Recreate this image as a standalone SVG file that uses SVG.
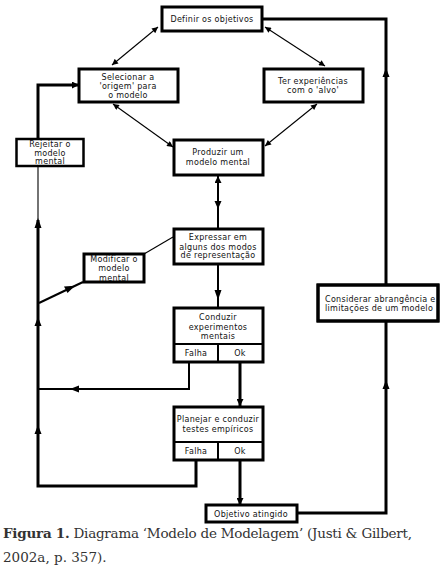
<svg xmlns="http://www.w3.org/2000/svg" width="445" height="585" viewBox="0 0 445 585">
<style>
.box{fill:#fff;stroke:#000;stroke-width:3}
.t{font-family:"DejaVu Sans",sans-serif;font-size:8px;letter-spacing:0.3px;fill:#111;text-anchor:middle}
.tl{text-anchor:start}
.thin{fill:none;stroke:#000;stroke-width:1.1}
.thick{fill:none;stroke:#000;stroke-width:3}
.med{fill:none;stroke:#000;stroke-width:2}
.ah{fill:#000}
.cap{font-family:"DejaVu Serif",serif;font-size:13.5px;fill:#333}
</style>
<defs>
<marker id="a" viewBox="0 0 10 10" refX="10" refY="5" markerWidth="8" markerHeight="6" markerUnits="userSpaceOnUse" orient="auto-start-reverse">
<path d="M0,0L10,5L0,10z" fill="#000"/>
</marker>
<marker id="b" viewBox="0 0 10 10" refX="10" refY="5" markerWidth="9" markerHeight="7" markerUnits="userSpaceOnUse" orient="auto">
<path d="M0,0L10,5L0,10z" fill="#000"/>
</marker>
<clipPath id="cc"><rect x="318" y="285" width="120" height="36"/></clipPath>
</defs>
<rect width="445" height="585" fill="#fff"/>
<g id="connectors">
<line class="thin" x1="158" y1="27" x2="112" y2="65" marker-start="url(#a)" marker-end="url(#a)"/>
<line class="thin" x1="265" y1="27" x2="325" y2="66" marker-start="url(#a)" marker-end="url(#a)"/>
<line class="thin" x1="113" y1="104" x2="173" y2="147" marker-start="url(#a)" marker-end="url(#a)"/>
<line class="thin" x1="317" y1="104" x2="265" y2="146" marker-start="url(#a)" marker-end="url(#a)"/>
<line class="med" x1="218" y1="229" x2="218" y2="176" marker-end="url(#b)"/>
<polygon class="ah" points="214.5,201 221.5,201 218,209"/>
<line class="med" x1="218" y1="264" x2="218" y2="308"/>
<polygon class="ah" points="214.5,290 221.5,290 218,300"/>
<line class="thin" x1="173" y1="237" x2="144" y2="254"/>
<line class="med" x1="39" y1="303" x2="83" y2="282"/>
<polygon class="ah" points="64,286.5 75,285.8 67.5,293"/>
<path class="med" d="M189,362V389H39"/>
<polygon class="ah" points="70,389 79,385.5 79,392.5"/>
<line class="thick" x1="240" y1="362" x2="240" y2="406" marker-end="url(#b)"/>
<line class="thick" x1="240" y1="460" x2="240" y2="505" marker-end="url(#b)"/>
<path class="thick" d="M196,460V486H38V220"/>
<polygon class="ah" points="38,317 34.5,326 41.5,326"/>
<polygon class="ah" points="38,425 34.5,434 41.5,434"/>
<polygon class="ah" points="38,218 34.5,228 41.5,228"/>
<line class="thin" x1="38" y1="222" x2="38" y2="166"/>
<path class="thick" d="M38,139V85H79" marker-end="url(#b)"/>
<path class="thick" d="M297,513H386V321"/>
<polygon class="ah" points="386,380 382.5,389 389.5,389"/>
<path class="thick" d="M386,285V19H263"/>
<polygon class="ah" points="386,68 382.5,77 389.5,77"/>
</g>
<g id="n-definir">
<rect class="box" x="162" y="7" width="100" height="24"/>
<text class="t" x="212" y="21.5">Definir os objetivos</text>
</g>
<g id="n-selecionar">
<rect class="box" x="79" y="69" width="99" height="33"/>
<text class="t" x="128" y="80">Selecionar  a</text>
<text class="t" x="128" y="89">'origem' para</text>
<text class="t" x="128" y="97.5">o modelo</text>
</g>
<g id="n-ter">
<rect class="box" x="264" y="69" width="99" height="33"/>
<text class="t" x="313" y="84">Ter experiências</text>
<text class="t" x="313" y="93">com o 'alvo'</text>
</g>
<g id="n-rejeitar">
<rect class="box" x="16.5" y="139" width="67" height="27" style="stroke-width:2.5"/>
<text class="t" x="50" y="147">Rejeitar o</text>
<text class="t" x="50" y="155.5">modelo</text>
<text class="t" x="50" y="164">mental</text>
</g>
<g id="n-produzir">
<rect class="box" x="174" y="140" width="89" height="35"/>
<text class="t" x="218" y="155">Produzir um</text>
<text class="t" x="218" y="165">modelo mental</text>
</g>
<g id="n-expressar">
<rect class="box" x="174" y="229" width="89" height="35"/>
<text class="t" x="218" y="240">Expressar em</text>
<text class="t" x="218" y="249.5">alguns dos modos</text>
<text class="t" x="218" y="258">de representação</text>
</g>
<g id="n-modificar">
<rect class="box" x="84" y="254" width="60" height="28"/>
<text class="t" x="114" y="261.5">Modificar o</text>
<text class="t" x="114" y="271">modelo</text>
<text class="t" x="114" y="280.5">mental</text>
</g>
<g id="n-conduzir">
<rect class="box" x="174" y="308" width="89" height="54"/>
<line x1="174" y1="344" x2="263" y2="344" stroke="#000" stroke-width="2"/>
<line x1="218" y1="344" x2="218" y2="362" stroke="#000" stroke-width="2"/>
<text class="t" x="218" y="320">Conduzir</text>
<text class="t" x="218" y="330">experimentos</text>
<text class="t" x="218" y="339">mentais</text>
<text class="t" x="196" y="356">Falha</text>
<text class="t" x="240" y="356">Ok</text>
</g>
<g id="n-planejar">
<rect class="box" x="174" y="407" width="89" height="53"/>
<line x1="174" y1="442" x2="263" y2="442" stroke="#000" stroke-width="2"/>
<line x1="218" y1="442" x2="218" y2="460" stroke="#000" stroke-width="2"/>
<text class="t" x="218" y="422">Planejar e conduzir</text>
<text class="t" x="218" y="432">testes empíricos</text>
<text class="t" x="196" y="453.5">Falha</text>
<text class="t" x="240" y="453.5">Ok</text>
</g>
<g id="n-objetivo">
<rect class="box" x="206" y="505" width="91" height="17"/>
<text class="t" x="251" y="516.5">Objetivo atingido</text>
</g>
<g id="n-considerar">
<rect class="box" x="318" y="285" width="120" height="36"/>
<g clip-path="url(#cc)">
<text class="t tl" x="325" y="302">Considerar abrangência e</text>
<text class="t tl" x="325" y="311">limitações de um modelo</text>
</g>
<rect x="318" y="285" width="120" height="36" fill="none" stroke="#000" stroke-width="3"/>
</g>
<g id="caption">
<text class="cap" x="3" y="538" textLength="409" lengthAdjust="spacing"><tspan font-weight="bold">Figura 1.</tspan> Diagrama ‘Modelo de Modelagem’ (Justi &amp; Gilbert,</text>
<text class="cap" x="3" y="562">2002a, p. 357).</text>
</g>
</svg>
